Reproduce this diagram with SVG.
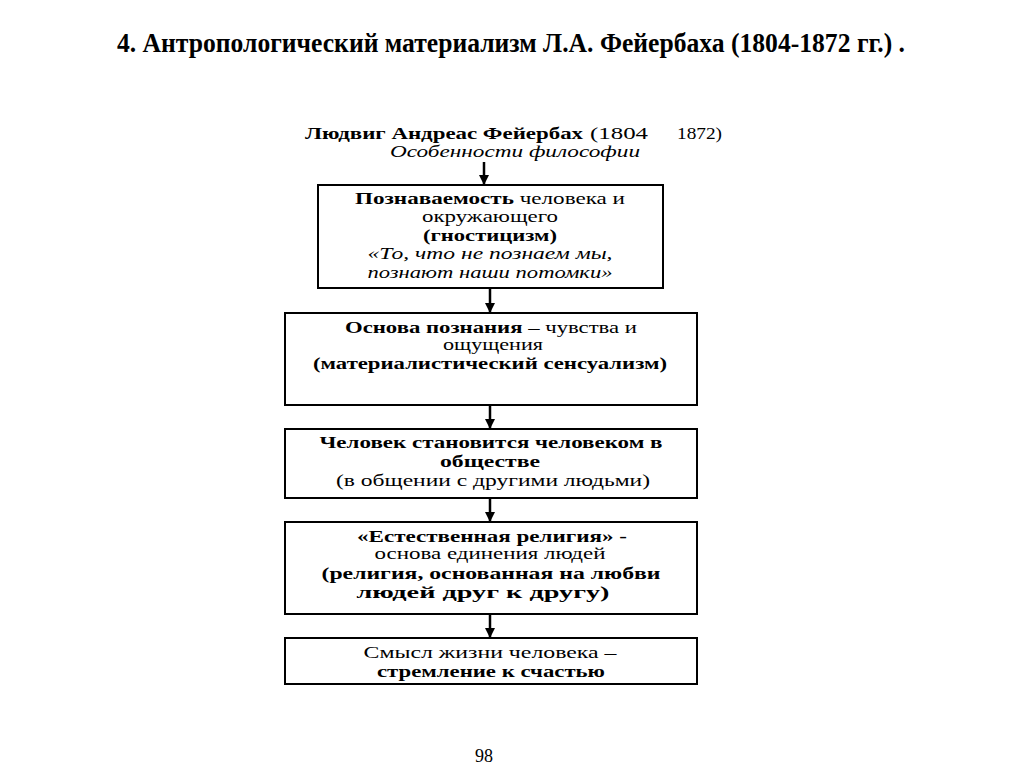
<svg xmlns="http://www.w3.org/2000/svg" width="1024" height="767" viewBox="0 0 1024 767">
<defs>
<marker id="ah" viewBox="0 0 10 10" refX="9" refY="5" markerWidth="10" markerHeight="10" markerUnits="userSpaceOnUse" orient="auto">
<path d="M0,0 L10,5 L0,10 z" fill="#000"/>
</marker>
</defs>
<style>
text{font-family:"Liberation Serif","Times New Roman",serif;fill:#000;}
.t{font-size:17px;text-anchor:middle;}
.b{font-weight:bold;}
.i{font-style:italic;}
.box{fill:#fff;stroke:#000;stroke-width:2;}
.c{stroke:#000;stroke-width:2.5;fill:none;}
</style>
<rect width="1024" height="767" fill="#fff"/>
<text x="511" y="52" font-size="27" font-weight="bold" text-anchor="middle" textLength="788" lengthAdjust="spacingAndGlyphs">4. Антропологический материализм Л.А. Фейербаха (1804-1872 гг.) .</text>

<g id="header">
<text x="305" y="139" font-size="17" class="b" textLength="278" lengthAdjust="spacingAndGlyphs">Людвиг Андреас Фейербах</text>
<text x="590" y="139" font-size="17" textLength="58" lengthAdjust="spacingAndGlyphs">(1804</text>
<text x="677" y="139" font-size="17" textLength="45" lengthAdjust="spacingAndGlyphs">1872)</text>
<text x="515" y="157" font-size="17" class="i" text-anchor="middle" textLength="250" lengthAdjust="spacingAndGlyphs">Особенности философии</text>
</g>

<g id="connectors">
<line class="c" x1="484" y1="162" x2="484" y2="184" marker-end="url(#ah)"/>
<line class="c" x1="490" y1="289" x2="490" y2="312" marker-end="url(#ah)"/>
<line class="c" x1="490" y1="406" x2="490" y2="428" marker-end="url(#ah)"/>
<line class="c" x1="490" y1="499" x2="490" y2="521" marker-end="url(#ah)"/>
<line class="c" x1="490" y1="615" x2="490" y2="637" marker-end="url(#ah)"/>
</g>

<g id="box1">
<rect class="box" x="318" y="185" width="345" height="103" stroke-width="2.5"/>
<text class="t" x="490" y="204" textLength="270" lengthAdjust="spacingAndGlyphs"><tspan class="b">Познаваемость</tspan> человека и</text>
<text class="t" x="490" y="222" textLength="136" lengthAdjust="spacingAndGlyphs">окружающего</text>
<text class="t b" x="490" y="241" textLength="134" lengthAdjust="spacingAndGlyphs">(гностицизм)</text>
<text class="t i" x="490" y="259" textLength="245" lengthAdjust="spacingAndGlyphs">«То, что не познаем мы,</text>
<text class="t i" x="490" y="278" textLength="245" lengthAdjust="spacingAndGlyphs">познают наши потомки»</text>
</g>

<g id="box2">
<rect class="box" x="285" y="313" width="412" height="92"/>
<text class="t" x="491" y="333" textLength="292" lengthAdjust="spacingAndGlyphs"><tspan class="b">Основа познания</tspan> – чувства и</text>
<text class="t" x="493" y="350" textLength="100" lengthAdjust="spacingAndGlyphs">ощущения</text>
<text class="t b" x="490" y="369" textLength="354" lengthAdjust="spacingAndGlyphs">(материалистический сенсуализм)</text>
</g>

<g id="box3">
<rect class="box" x="285" y="429" width="412" height="69"/>
<text class="t b" x="491" y="448" textLength="343" lengthAdjust="spacingAndGlyphs">Человек становится человеком в</text>
<text class="t b" x="490" y="467" textLength="100" lengthAdjust="spacingAndGlyphs">обществе</text>
<text class="t" x="493" y="486" textLength="314" lengthAdjust="spacingAndGlyphs">(в общении с другими людьми)</text>
</g>

<g id="box4">
<rect class="box" x="285" y="522" width="412" height="92"/>
<text class="t b" x="492" y="542" textLength="270" lengthAdjust="spacingAndGlyphs">«Естественная религия» -</text>
<text class="t" x="490" y="559" textLength="231" lengthAdjust="spacingAndGlyphs">основа единения людей</text>
<text class="t b" x="491" y="579" textLength="339" lengthAdjust="spacingAndGlyphs">(религия, основанная на любви</text>
<text class="t b" x="483" y="598" textLength="253" lengthAdjust="spacingAndGlyphs">людей друг к другу)</text>
</g>

<g id="box5">
<rect class="box" x="285" y="638" width="412" height="46"/>
<text class="t" x="490" y="658" textLength="253" lengthAdjust="spacingAndGlyphs">Смысл жизни человека –</text>
<text class="t b" x="491" y="677" textLength="228" lengthAdjust="spacingAndGlyphs">стремление к счастью</text>
</g>

<text x="484" y="762" font-size="18" text-anchor="middle">98</text>
</svg>
